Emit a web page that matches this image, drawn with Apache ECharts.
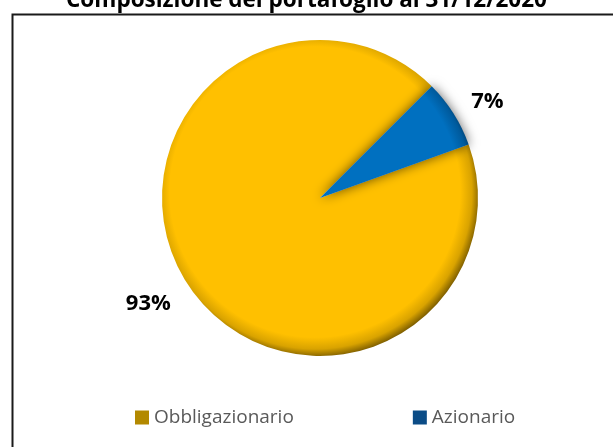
<!DOCTYPE html>
<html>
<head>
<meta charset="utf-8">
<script src="https://cdn.jsdelivr.net/npm/echarts@6/dist/echarts.min.js"></script>
<style>
html,body{margin:0;padding:0;background:#fff;}
#chart{width:613px;height:447px;}
</style>
</head>
<body>
<div id="chart"></div>
<script>
const titleText = "Composizione del portafoglio al 31/12/2020";
const categories = ["Obbligazionario", "Azionario"];
const values = [93, 7];
const labels = ["93%", "7%"];

const cx = 320, cy = 198, R = 158;
function grad(base, mid, edge) {
  return {
    type: 'radial', x: cx - 5, y: cy - 6, r: R + 9, global: true,
    colorStops: [
      {offset: 0, color: base},
      {offset: 0.87, color: base},
      {offset: 0.94, color: mid},
      {offset: 1, color: edge}
    ]
  };
}
const fills = [grad('#FFC000', '#D9A300', '#6E5200'), grad('#0070C0', '#005A9C', '#002B4D')];
const legendColors = ['#B38900', '#0B4C86'];
const labelLines = [{length: 40, length2: -18}, {length: 21, length2: 0}];

const chart = echarts.init(document.getElementById('chart'));
chart.setOption({
  animation: false,
  title: {
    text: titleText, left: 'center', top: -16,
    textStyle: {fontFamily: 'Open Sans', fontWeight: 'bold', fontSize: 22.5, color: '#000'}
  },
  graphic: [{
    type: 'rect', left: 10, top: 12, shape: {x: 0, y: 0, width: 700, height: 600},
    style: {fill: 'none', stroke: '#1a1a1a', lineWidth: 2}, silent: true, z: -1
  }],
  legend: {
    left: 135, top: 408, padding: 0, itemWidth: 14, itemHeight: 14, itemGap: 119,
    icon: 'rect',
    textStyle: {fontFamily: 'Open Sans', fontSize: 19, color: '#595959'},
    data: categories.map((c, i) => ({name: c, itemStyle: {color: legendColors[i]}}))
  },
  series: [{
    type: 'pie',
    center: [cx, cy], radius: R,
    startAngle: 19.8, clockwise: true,
    avoidLabelOverlap: false,
    label: {
      show: true, position: 'outside', distanceToLabelLine: 0,
      fontFamily: 'Open Sans', fontWeight: 'bold', fontSize: 22, color: '#000'
    },
    labelLine: {show: false},
    data: categories.map((c, i) => ({
      name: c, value: values[i],
      label: {formatter: labels[i]},
      labelLine: Object.assign({show: false}, labelLines[i]),
      itemStyle: Object.assign({color: fills[i]},
        i === 1 ? {shadowColor: 'rgba(0,0,0,0.6)', shadowBlur: 12} : {})
    }))
  }]
});
</script>
</body>
</html>
